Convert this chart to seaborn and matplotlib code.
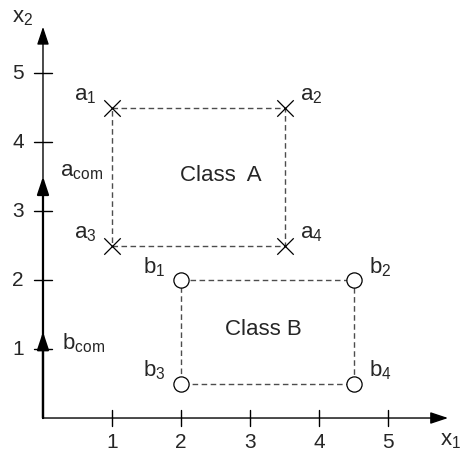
import matplotlib
matplotlib.use('Agg')
import matplotlib.pyplot as plt
import seaborn as sns
import pandas as pd

# class A corners (crosses) and class B corners (circles)
a_x = [1, 3.5, 1, 3.5]
a_y = [4.5, 4.5, 2.5, 2.5]
a_names = ['a_1', 'a_2', 'a_3', 'a_4']
b_x = [2, 4.5, 2, 4.5]
b_y = [2, 2, 0.5, 0.5]
b_names = ['b_1', 'b_2', 'b_3', 'b_4']

# common vectors on the x2 axis
a_com = 3.5
b_com = 1.25

ticks = [1, 2, 3, 4, 5]

sns.set_theme(style='white')
plt.rcParams['font.family'] = ['Liberation Sans', 'DejaVu Sans']
plt.rcParams['mathtext.fontset'] = 'custom'
plt.rcParams['mathtext.rm'] = 'Liberation Sans'

df_a = pd.DataFrame({'x1': a_x, 'x2': a_y, 'name': a_names})
df_b = pd.DataFrame({'x1': b_x, 'x2': b_y, 'name': b_names})

fig = plt.figure(figsize=(4.62, 4.53), dpi=100)
ax = fig.add_axes([0, 0, 1, 1])
ax.set_xlim(-0.623, 6.072)
ax.set_ylim(-0.507, 6.058)

# dashed boxes
for df in (df_a, df_b):
    xs = [df.x1[0], df.x1[1], df.x1[3], df.x1[2], df.x1[0]]
    ys = [df.x2[0], df.x2[1], df.x2[3], df.x2[2], df.x2[0]]
    ax.plot(xs, ys, ls=(0, (4, 2.5)), color='#4d4d4d', lw=1.0, zorder=1)

sns.scatterplot(data=df_a, x='x1', y='x2', marker='x', s=140, color='black',
                linewidth=0.9, ax=ax, zorder=3)
sns.scatterplot(data=df_b, x='x1', y='x2', marker='o', s=120, facecolor='white',
                edgecolor='black', linewidth=0.9, ax=ax, zorder=3)

# corner labels
for df in (df_a, df_b):
    for i, row in df.iterrows():
        left = row.x1 == df.x1.min()
        ax.annotate(r'$\mathregular{%s}$' % row['name'], (row.x1, row.x2),
                    xytext=(-11 if left else 11, 1), textcoords='offset points',
                    ha='right' if left else 'left', va='bottom', fontsize=16)

ax.text(2.57, 3.52, 'Class  A', fontsize=16, ha='center', va='center')
ax.text(3.2, 1.28, 'Class B', fontsize=16, ha='center', va='center')

# axes with arrows
arrow = dict(arrowstyle='-|>,head_length=0.9,head_width=0.3', color='black',
             lw=1.0, shrinkA=0, shrinkB=0)
ax.annotate('', xy=(5.87, 0), xytext=(0, 0), arrowprops=arrow)
ax.annotate('', xy=(0, 5.67), xytext=(0, 0), arrowprops=arrow)
vec = dict(arrowstyle='-|>,head_length=0.9,head_width=0.3', color='black',
           lw=1.6, shrinkA=0, shrinkB=0)
ax.annotate('', xy=(0, a_com), xytext=(0, 0), arrowprops=vec)
ax.annotate('', xy=(0, b_com), xytext=(0, 0), arrowprops=vec)
ax.text(0.24, a_com - 0.08, r'$\mathregular{a_{com}}$', fontsize=16, va='bottom')
ax.text(0.28, b_com - 0.33, r'$\mathregular{b_{com}}$', fontsize=16, va='bottom')

# tick marks and labels
for t in ticks:
    ax.plot([t, t], [-0.12, 0.12], color='black', lw=1.0)
    ax.plot([-0.13, 0.13], [t, t], color='black', lw=1.0)
    ax.text(t, -0.35, str(t), fontsize=15, ha='center', va='center')
    ax.text(-0.36, t, str(t), fontsize=15, ha='center', va='center')

ax.text(5.76, -0.32, r'$\mathregular{x_1}$', fontsize=16, ha='left', va='center')
ax.text(-0.14, 5.65, r'$\mathregular{x_2}$', fontsize=16, ha='right', va='bottom')

ax.set_axis_off()
fig.savefig('out.png', dpi=100)
